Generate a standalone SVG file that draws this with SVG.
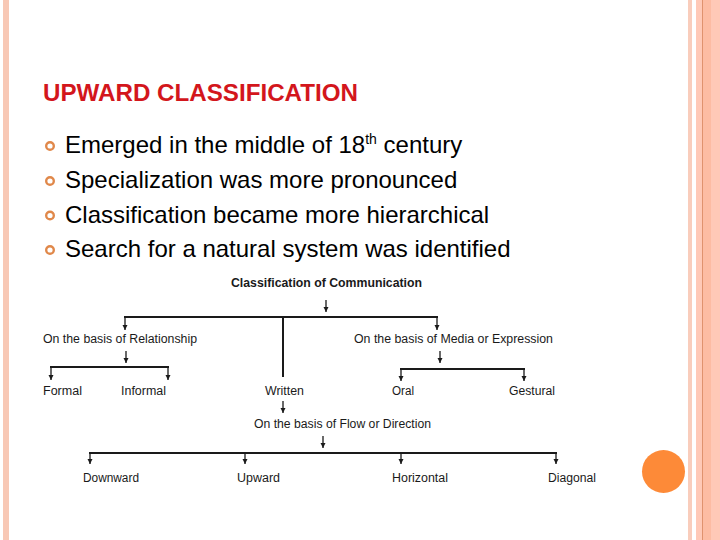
<svg xmlns="http://www.w3.org/2000/svg" width="720" height="540" viewBox="0 0 720 540">
<defs>
<style>
.t{font-family:"Liberation Sans",Arial,sans-serif;fill:#1a1a1a;font-size:12.5px}
.b{font-weight:bold}
.bul{font-family:"Liberation Sans",Arial,sans-serif;fill:#000;font-size:24px}
.ring{fill:none;stroke:#E0884A;stroke-width:2.4}
.ln{stroke:#1a1a1a;stroke-width:2;fill:none}
.ar{stroke:#1a1a1a;stroke-width:1.3;fill:none;marker-end:url(#ah)}
</style>
<marker id="ah" markerUnits="userSpaceOnUse" markerWidth="6" markerHeight="6" refX="5" refY="2.5" orient="auto">
<path d="M0,0 L5,2.5 L0,5 z" fill="#1a1a1a"/>
</marker>
</defs>
<rect width="720" height="540" fill="#fff"/>
<rect x="3" y="0" width="6" height="540" fill="#F8C8B5"/>
<rect x="688" y="0" width="4" height="540" fill="#F9CDBC"/>
<rect x="696" y="0" width="24" height="540" fill="#FFC9B7"/>
<rect x="703" y="0" width="8" height="540" fill="#FDBCA3"/>
<line x1="702.5" y1="0" x2="702.5" y2="540" stroke="#E0926E" stroke-width="1"/>
<circle cx="663.5" cy="471.5" r="21.5" fill="#FD8A38"/>

<text x="43" y="101" font-family="'Liberation Sans',Arial,sans-serif" font-weight="bold" font-size="24" fill="#D3161C" textLength="315" lengthAdjust="spacingAndGlyphs">UPWARD CLASSIFICATION</text>

<g id="bullets">
<circle class="ring" cx="50" cy="146" r="3.8"/>
<circle class="ring" cx="50" cy="181" r="3.8"/>
<circle class="ring" cx="50" cy="215.5" r="3.8"/>
<circle class="ring" cx="50" cy="250" r="3.8"/>
<text class="bul" x="65" y="153">Emerged in the middle of 18<tspan font-size="14" dy="-9">th</tspan><tspan dy="9"> century</tspan></text>
<text class="bul" x="65" y="188">Specialization was more pronounced</text>
<text class="bul" x="65" y="222.5">Classification became more hierarchical</text>
<text class="bul" x="65" y="257">Search for a natural system was identified</text>
</g>

<g id="connectors">
<line class="ar" x1="326" y1="300" x2="326" y2="312"/>
<line class="ln" x1="124" y1="317" x2="438" y2="317"/>
<line class="ar" x1="125" y1="317" x2="125" y2="330"/>
<line class="ar" x1="437" y1="317" x2="437" y2="330"/>
<line class="ln" x1="283" y1="317" x2="283" y2="377"/>
<line class="ar" x1="126" y1="351" x2="126" y2="363"/>
<line class="ln" x1="50" y1="367" x2="169" y2="367"/>
<line class="ar" x1="51" y1="367" x2="51" y2="380"/>
<line class="ar" x1="168" y1="367" x2="168" y2="380"/>
<line class="ar" x1="440" y1="351" x2="440" y2="363"/>
<line class="ln" x1="400" y1="369" x2="525" y2="369"/>
<line class="ar" x1="401" y1="369" x2="401" y2="381"/>
<line class="ar" x1="524" y1="369" x2="524" y2="381"/>
<line class="ar" x1="283" y1="401" x2="283" y2="413"/>
<line class="ar" x1="323" y1="436" x2="323" y2="448"/>
<line class="ln" x1="89" y1="453" x2="557" y2="453"/>
<line class="ar" x1="90" y1="453" x2="90" y2="464"/>
<line class="ar" x1="245" y1="453" x2="245" y2="464"/>
<line class="ar" x1="401" y1="453" x2="401" y2="464"/>
<line class="ar" x1="556" y1="453" x2="556" y2="464"/>
</g>

<g id="root"><text class="t b" x="231" y="287" textLength="191" lengthAdjust="spacingAndGlyphs">Classification of Communication</text></g>
<g id="relationship"><text class="t" x="43" y="343" textLength="154" lengthAdjust="spacingAndGlyphs">On the basis of Relationship</text></g>
<g id="formal"><text class="t" x="43" y="395" textLength="39" lengthAdjust="spacingAndGlyphs">Formal</text></g>
<g id="informal"><text class="t" x="121" y="395" textLength="45" lengthAdjust="spacingAndGlyphs">Informal</text></g>
<g id="written"><text class="t" x="265" y="395" textLength="39" lengthAdjust="spacingAndGlyphs">Written</text></g>
<g id="media"><text class="t" x="354" y="343" textLength="199" lengthAdjust="spacingAndGlyphs">On the basis of Media or Expression</text></g>
<g id="oral"><text class="t" x="392" y="395" textLength="22" lengthAdjust="spacingAndGlyphs">Oral</text></g>
<g id="gestural"><text class="t" x="509" y="395" textLength="46" lengthAdjust="spacingAndGlyphs">Gestural</text></g>
<g id="flow"><text class="t" x="254" y="428" textLength="177" lengthAdjust="spacingAndGlyphs">On the basis of Flow or Direction</text></g>
<g id="downward"><text class="t" x="83" y="482" textLength="56" lengthAdjust="spacingAndGlyphs">Downward</text></g>
<g id="upward"><text class="t" x="237" y="482" textLength="43" lengthAdjust="spacingAndGlyphs">Upward</text></g>
<g id="horizontal"><text class="t" x="392" y="482" textLength="56" lengthAdjust="spacingAndGlyphs">Horizontal</text></g>
<g id="diagonal"><text class="t" x="548" y="482" textLength="48" lengthAdjust="spacingAndGlyphs">Diagonal</text></g>
</svg>
